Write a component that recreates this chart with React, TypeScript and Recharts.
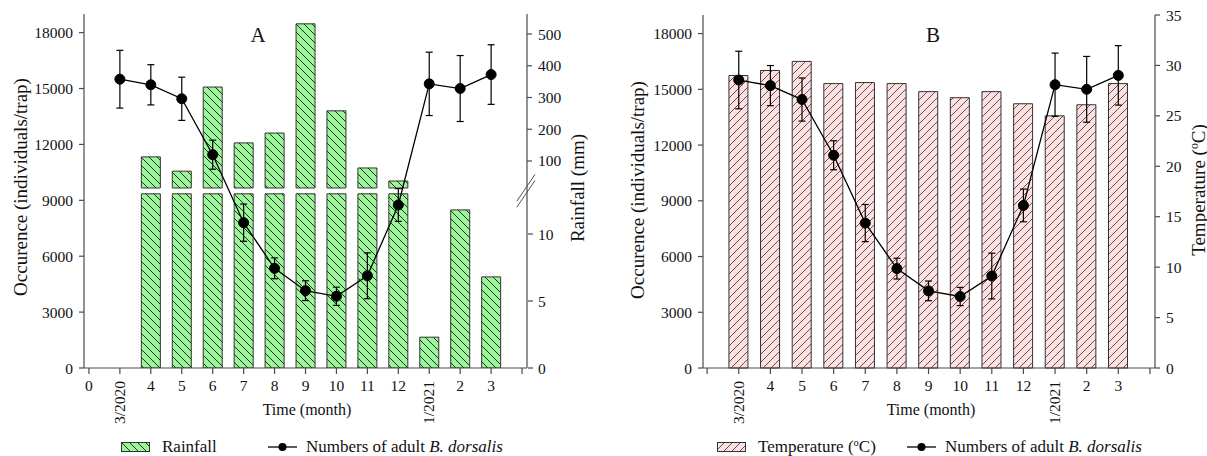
import React from "react";
import { ComposedChart, Bar, Line, XAxis, YAxis, ErrorBar, ReferenceLine } from "recharts";

// month slots on the x axis: 0 = empty, 1 = 3/2020 ... 13 = 3/2021, 14 = empty end tick
const months = [1, 2, 3, 4, 5, 6, 7, 8, 9, 10, 11, 12, 13];
const monthTicks = [0, 1, 2, 3, 4, 5, 6, 7, 8, 9, 10, 11, 12, 13, 14];
const tickLabelsA = ["0", "3/2020", "4", "5", "6", "7", "8", "9", "10", "11", "12", "1/2021", "2", "3", ""];
const tickLabelsB = ["", "3/2020", "4", "5", "6", "7", "8", "9", "10", "11", "12", "1/2021", "2", "3", ""];

const adults = [15500, 15200, 14450, 11450, 7800, 5350, 4150, 3850, 4950, 8750, 15250, 15000, 15750];
const adultsErr = [1550, 1080, 1160, 780, 1000, 560, 530, 490, 1230, 880, 1700, 1770, 1600];
const rainfall = [null, 113, 68, 333, 157, 188, 532, 258, 78, 37, 2.3, 11.8, 6.8];
const temperature = [29.0, 29.5, 30.4, 28.2, 28.3, 28.2, 27.4, 26.8, 27.4, 26.2, 25.0, 26.1, 28.2];

const occTicks = [0, 3000, 6000, 9000, 12000, 15000, 18000];
const rainLowTicks = [0, 5, 10];
const rainHighTicks = [100, 200, 300, 400, 500];
const tempTicks = [0, 5, 10, 15, 20, 25, 30, 35];

// broken rainfall axis: lower part 0-13 mm, upper part from 15 mm
const BREAK_LOW = 13;
const BREAK_HIGH = 15;

const rowsA = months.map((m, i) => {
  const r = rainfall[i];
  return {
    m,
    occ: adults[i],
    err: adultsErr[i],
    rainLow: r == null ? null : Math.min(r, BREAK_LOW),
    rainHigh: r != null && r > BREAK_HIGH ? [BREAK_HIGH, r] : null,
  };
});
const rowsB = months.map((m, i) => ({ m, occ: adults[i], err: adultsErr[i], temp: temperature[i] }));

const FONT = "'Liberation Serif', 'Times New Roman', serif";
const AXIS = "#4a4a4a";
const tickStyle = { fill: "#111", fontSize: 15.5, fontFamily: FONT };

function monthTick(labels: string[]) {
  return (props: any) => {
    const { x, y, payload } = props;
    const label = labels[payload.value] ?? "";
    if (label.includes("/")) {
      return (
        <text x={x + 5} y={y + 1} transform={`rotate(-90 ${x + 5} ${y + 1})`}
          textAnchor="end" fill="#111" fontSize={15.5} fontFamily={FONT}>
          {label}
        </text>
      );
    }
    return (
      <text x={x} y={y} dy="0.71em" textAnchor="middle" fill="#111" fontSize={15.5} fontFamily={FONT}>
        {label}
      </text>
    );
  };
}

function Txt({ x, y, size, rotate, children }: any) {
  return (
    <div style={{
      position: "absolute", left: x, top: y, whiteSpace: "nowrap", lineHeight: 1,
      fontSize: size, fontFamily: FONT, color: "#111",
      transform: `translate(-50%, -50%)${rotate ? " rotate(-90deg)" : ""}`,
    }}>
      {children}
    </div>
  );
}

function LegendItem({ x, swatch, children }: any) {
  return (
    <div style={{ position: "absolute", left: x, top: 438, height: 18, display: "flex", alignItems: "center",
      fontFamily: FONT, fontSize: 17, color: "#111", whiteSpace: "nowrap" }}>
      {swatch}
      <span>{children}</span>
    </div>
  );
}

const lineSwatch = (
  <svg width={29} height={10} style={{ marginRight: 9 }}>
    <line x1={0} y1={5} x2={29} y2={5} stroke="#000" strokeWidth={1.3} />
    <circle cx={14.5} cy={5} r={4} fill="#000" />
  </svg>
);
const barSwatch = (id: string) => (
  <svg width={29} height={10} style={{ marginRight: 12 }}>
    <rect x={0.5} y={0.5} width={28} height={9} fill={`url(#${id})`} stroke="#333" />
  </svg>
);

const sup = <span style={{ fontSize: "0.62em", position: "relative", top: "-0.6em" }}>o</span>;

export default function App() {
  return (
    <div style={{ position: "absolute", left: 0, top: 0, width: 1207, height: 456, background: "#fff", overflow: "hidden" }}>
      <svg width={0} height={0} style={{ position: "absolute" }}>
        <defs>
          <pattern id="hatchRain" patternUnits="userSpaceOnUse" width={8} height={8}>
            <rect width={8} height={8} fill="#9cf59a" />
            <path d="M-2,-2 L10,10 M-2,6 L2,10 M6,-2 L10,2" stroke="#1d331d" strokeWidth={1} />
          </pattern>
          <pattern id="hatchTemp" patternUnits="userSpaceOnUse" width={8} height={8}>
            <rect width={8} height={8} fill="#ffe0e0" />
            <path d="M-2,10 L10,-2 M-2,2 L2,-2 M6,10 L10,6" stroke="#333" strokeWidth={0.8} />
          </pattern>
        </defs>
      </svg>

      {/* Panel A */}
      <div style={{ position: "absolute", left: 0, top: 0 }}>
        <ComposedChart width={600} height={456} data={rowsA} barGap={-19}
          margin={{ top: 14, right: 32, bottom: 28, left: 24 }}>
          <XAxis dataKey="m" type="number" domain={[-0.16, 14.16]} ticks={monthTicks} allowDataOverflow
            height={60} tickSize={6} tickMargin={6} interval={0}
            axisLine={{ stroke: AXIS, strokeWidth: 1.2 }} tickLine={{ stroke: AXIS, strokeWidth: 1.2 }}
            tick={monthTick(tickLabelsA)} />
          <XAxis xAxisId="top" orientation="top" type="number" domain={[-0.16, 14.16]} height={0}
            tick={false} tickLine={false} axisLine={{ stroke: AXIS, strokeWidth: 1.2 }} />
          <YAxis yAxisId="occ" domain={[0, 19000]} ticks={occTicks} width={60} tickSize={5} tickMargin={6}
            axisLine={{ stroke: AXIS, strokeWidth: 1.2 }} tickLine={{ stroke: AXIS, strokeWidth: 1.2 }} tick={tickStyle} />
          <YAxis yAxisId="rainLow" orientation="right" domain={[0, 26.42]} ticks={rainLowTicks} width={40}
            allowDataOverflow tickSize={5} tickMargin={5}
            axisLine={false} tickLine={{ stroke: AXIS, strokeWidth: 1.2 }} tick={tickStyle} />
          <YAxis yAxisId="rainHigh" orientation="right" domain={[-552, 563]} ticks={rainHighTicks} width={1}
            allowDataOverflow tickSize={5} tickMargin={6}
            axisLine={{ stroke: AXIS, strokeWidth: 1.2 }} tickLine={{ stroke: AXIS, strokeWidth: 1.2 }} tick={tickStyle} />
          <Bar yAxisId="rainLow" dataKey="rainLow" barSize={19} fill="url(#hatchRain)" stroke="#333" strokeWidth={1}
            isAnimationActive={false} />
          <Bar yAxisId="rainHigh" dataKey="rainHigh" barSize={19} fill="url(#hatchRain)" stroke="#333" strokeWidth={1}
            isAnimationActive={false} />
          <ReferenceLine yAxisId="rainLow" ifOverflow="visible" stroke="#555" strokeWidth={1}
            segment={[{ x: 13.83, y: 12.0 }, { x: 14.42, y: 14.0 }]} />
          <ReferenceLine yAxisId="rainLow" ifOverflow="visible" stroke="#555" strokeWidth={1}
            segment={[{ x: 13.83, y: 12.45 }, { x: 14.42, y: 14.45 }]} />
          <Line yAxisId="occ" dataKey="occ" stroke="#000" strokeWidth={1.3}
            dot={{ r: 5, fill: "#000", stroke: "#000", strokeWidth: 1 }} isAnimationActive={false}>
            <ErrorBar dataKey="err" direction="y" width={3.5} stroke="#000" strokeWidth={1.2} />
          </Line>
        </ComposedChart>
      </div>

      {/* Panel B */}
      <div style={{ position: "absolute", left: 603, top: 0 }}>
        <ComposedChart width={604} height={456} data={rowsB}
          margin={{ top: 15, right: 12, bottom: 28, left: 40 }}>
          <XAxis dataKey="m" type="number" domain={[-0.13, 14.16]} ticks={monthTicks} allowDataOverflow
            height={60} tickSize={6} tickMargin={6} interval={0}
            axisLine={{ stroke: AXIS, strokeWidth: 1.2 }} tickLine={{ stroke: AXIS, strokeWidth: 1.2 }}
            tick={monthTick(tickLabelsB)} />
          <XAxis xAxisId="top" orientation="top" type="number" domain={[-0.13, 14.16]} height={0}
            tick={false} tickLine={false} axisLine={{ stroke: AXIS, strokeWidth: 1.2 }} />
          <YAxis yAxisId="occ" domain={[0, 19000]} ticks={occTicks} width={60} tickSize={5} tickMargin={6}
            axisLine={{ stroke: AXIS, strokeWidth: 1.2 }} tickLine={{ stroke: AXIS, strokeWidth: 1.2 }} tick={tickStyle} />
          <YAxis yAxisId="temp" orientation="right" domain={[0, 35]} ticks={tempTicks} width={40}
            tickSize={5} tickMargin={6}
            axisLine={{ stroke: AXIS, strokeWidth: 1.2 }} tickLine={{ stroke: AXIS, strokeWidth: 1.2 }} tick={tickStyle} />
          <Bar yAxisId="temp" dataKey="temp" barSize={19} fill="url(#hatchTemp)" stroke="#333" strokeWidth={1}
            isAnimationActive={false} />
          <Line yAxisId="occ" dataKey="occ" stroke="#000" strokeWidth={1.3}
            dot={{ r: 5, fill: "#000", stroke: "#000", strokeWidth: 1 }} isAnimationActive={false}>
            <ErrorBar dataKey="err" direction="y" width={3.5} stroke="#000" strokeWidth={1.2} />
          </Line>
        </ComposedChart>
      </div>

      {/* titles and labels */}
      <Txt x={258} y={35} size={21}>A</Txt>
      <Txt x={933} y={35} size={21}>B</Txt>
      <Txt x={20} y={187} size={19} rotate>Occurence (individuals/trap)</Txt>
      <Txt x={577} y={188} size={19} rotate>Rainfall (mm)</Txt>
      <Txt x={637} y={190} size={19} rotate>Occurence (individuals/trap)</Txt>
      <Txt x={1198} y={190} size={19} rotate>Temperature ({sup}C)</Txt>
      <Txt x={307} y={410} size={16}>Time (month)</Txt>
      <Txt x={931} y={410} size={16}>Time (month)</Txt>

      <LegendItem x={121} swatch={barSwatch("hatchRain")}>Rainfall</LegendItem>
      <LegendItem x={268} swatch={lineSwatch}>Numbers of adult <i>B. dorsalis</i></LegendItem>
      <LegendItem x={717} swatch={barSwatch("hatchTemp")}>Temperature ({sup}C)</LegendItem>
      <LegendItem x={907} swatch={lineSwatch}>Numbers of adult <i>B. dorsalis</i></LegendItem>
    </div>
  );
}
